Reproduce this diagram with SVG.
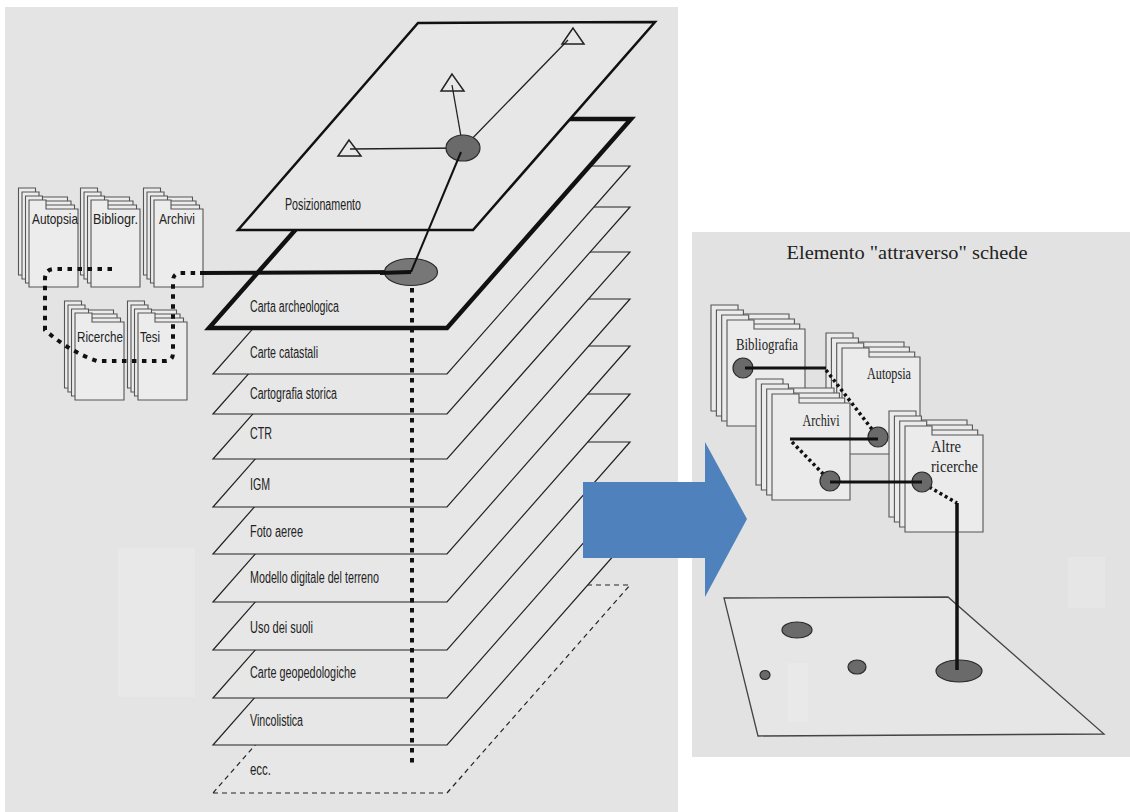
<svg xmlns="http://www.w3.org/2000/svg" width="1130" height="812" viewBox="0 0 1130 812">
<style>
.layer{fill:#e7e7e7;stroke:#222;stroke-width:1.2;stroke-linejoin:miter}
.lbl{font-family:"Liberation Sans","Arial",sans-serif;font-size:16px;fill:#222}
.clbl{font-family:"Liberation Sans","Arial",sans-serif;font-size:15px;fill:#222}
.rlbl{font-family:"Liberation Serif","Times New Roman",serif;font-size:16.5px;fill:#222}
.card{fill:#ececec;stroke:#555;stroke-width:1.1}
.rcard{fill:#ebebeb;stroke:#555;stroke-width:1.1}
.dot{fill:#6a6a6a;stroke:#2a2a2a;stroke-width:1.2}
.solid{fill:none;stroke:#111;stroke-width:3}
.dotted{fill:none;stroke:#111;stroke-width:4;stroke-dasharray:4.5 5.5}
.rdotted{fill:none;stroke:#111;stroke-width:3.5;stroke-dasharray:3 3}
.tri{fill:#e8e8e8;stroke:#222;stroke-width:1.5}
</style>
<defs>
<path id="lc" d="M0,78 L0,-9 L17,-9 L17,0 L49,0 L49,78 Z"/>
<path id="rc" d="M0,97 L0,-9 L27,-9 L27,0 L78,0 L78,97 Z"/>
<g id="lstack">
<use href="#lc" class="card" x="-10.5" y="-12"/>
<use href="#lc" class="card" x="-7" y="-8"/>
<use href="#lc" class="card" x="-3.5" y="-4"/>
<use href="#lc" class="card" x="0" y="0"/>
</g>
<g id="rstack">
<use href="#rc" class="rcard" x="-16" y="-15"/>
<use href="#rc" class="rcard" x="-10.6" y="-10"/>
<use href="#rc" class="rcard" x="-5.3" y="-5"/>
<use href="#rc" class="rcard" x="0" y="0"/>
</g>
</defs>
<rect x="0" y="0" width="1130" height="812" fill="#ffffff"/>
<rect id="left-panel" x="5" y="7" width="673" height="805" fill="#e4e4e4"/>
<rect x="118" y="548" width="77" height="149" fill="#e8e8e8"/>
<rect id="right-panel" x="692" y="232" width="438" height="525" fill="#e2e2e2"/>
<rect x="1068" y="557" width="37" height="51" fill="#e6e6e6"/>

<g id="layers">
<g id="layer-ecc"><polygon points="213,793 447,793 630,585 396,585" class="layer" style="stroke-dasharray:5 4"/><text class="lbl" x="250" y="775" textLength="21" lengthAdjust="spacingAndGlyphs">ecc.</text></g>
<g id="layer-vincolistica"><polygon points="213,745 447,745 630,537 396,537" class="layer"/><text class="lbl" x="250" y="726" textLength="53" lengthAdjust="spacingAndGlyphs">Vincolistica</text></g>
<g id="layer-geopedologiche"><polygon points="213,698 447,698 630,490 396,490" class="layer"/><text class="lbl" x="250" y="678" textLength="106" lengthAdjust="spacingAndGlyphs">Carte geopedologiche</text></g>
<g id="layer-uso"><polygon points="213,650 447,650 630,442 396,442" class="layer"/><text class="lbl" x="250" y="633" textLength="63" lengthAdjust="spacingAndGlyphs">Uso dei suoli</text></g>
<g id="layer-modello"><polygon points="213,602 447,602 630,394 396,394" class="layer"/><text class="lbl" x="250" y="583" textLength="129" lengthAdjust="spacingAndGlyphs">Modello digitale del terreno</text></g>
<g id="layer-foto"><polygon points="213,554 447,554 630,346 396,346" class="layer"/><text class="lbl" x="250" y="537" textLength="53" lengthAdjust="spacingAndGlyphs">Foto aeree</text></g>
<g id="layer-igm"><polygon points="213,507 447,507 630,299 396,299" class="layer"/><text class="lbl" x="250" y="490" textLength="20" lengthAdjust="spacingAndGlyphs">IGM</text></g>
<g id="layer-ctr"><polygon points="213,459 447,459 630,252 396,252" class="layer"/><text class="lbl" x="250" y="439" textLength="22" lengthAdjust="spacingAndGlyphs">CTR</text></g>
<g id="layer-cartografia"><polygon points="213,414 447,414 630,207 396,207" class="layer"/><text class="lbl" x="250" y="399" textLength="87" lengthAdjust="spacingAndGlyphs">Cartografia storica</text></g>
<g id="layer-catastali"><polygon points="213,374 447,374 630,166 396,166" class="layer"/><text class="lbl" x="250" y="358" textLength="68" lengthAdjust="spacingAndGlyphs">Carte catastali</text></g>
<g id="layer-archeologica"><polygon points="209,328 447,328 631,119 393,119" class="layer" style="stroke-width:4.5;stroke:#111"/><text class="lbl" x="250" y="312" textLength="89" lengthAdjust="spacingAndGlyphs">Carta archeologica</text></g>
<g id="layer-posizionamento"><polygon points="238,230 473,230 655,22 418,23" class="layer" style="stroke-width:2.5;stroke:#111"/><text class="lbl" x="285" y="210" textLength="76" lengthAdjust="spacingAndGlyphs">Posizionamento</text></g>
</g>

<g id="left-cards">
<g id="card-autopsia"><use href="#lstack" x="29" y="209"/><text class="clbl" x="55" y="224" text-anchor="middle" textLength="46" lengthAdjust="spacingAndGlyphs">Autopsia</text></g>
<g id="card-bibliogr"><use href="#lstack" x="91" y="209"/><text class="clbl" x="115.5" y="224" text-anchor="middle" textLength="45" lengthAdjust="spacingAndGlyphs">Bibliogr.</text></g>
<g id="card-archivi"><use href="#lstack" x="154" y="209"/><text class="clbl" x="177" y="224" text-anchor="middle" textLength="36" lengthAdjust="spacingAndGlyphs">Archivi</text></g>
<g id="card-ricerche"><use href="#lstack" x="75" y="322"/><text class="clbl" x="100" y="342" text-anchor="middle" textLength="46" lengthAdjust="spacingAndGlyphs">Ricerche</text></g>
<g id="card-tesi"><use href="#lstack" x="138" y="322"/><text class="clbl" x="140" y="342" textLength="20" lengthAdjust="spacingAndGlyphs">Tesi</text></g>
</g>

<g id="triangles">
<polygon class="tri" points="349,140 338,156 361,156"/>
<polygon class="tri" points="452,74 441,91 464,91"/>
<polygon class="tri" points="573,28 562,44 584,44"/>
</g>

<g id="connectors">
<line x1="463" y1="148" x2="350" y2="149" stroke="#222" stroke-width="1.3"/>
<line x1="463" y1="148" x2="452" y2="85" stroke="#222" stroke-width="1.3"/>
<line x1="463" y1="148" x2="568" y2="40" stroke="#222" stroke-width="1.3"/>
<line x1="200" y1="273" x2="411" y2="272" stroke="#111" stroke-width="4"/>
<path class="dotted" d="M112,269 L55,269 Q45,269 45,279 L45,330 Q70,352 97,361 L165,361 Q173,361 173,353 L173,281 Q173,273 181,273 L200,273"/>
<line class="dotted" x1="412" y1="278" x2="412" y2="768"/>
</g>

<g id="dots-left">
<ellipse class="dot" cx="463" cy="148" rx="17" ry="13"/>
<ellipse class="dot" cx="411" cy="272" rx="26.5" ry="13.5" style="fill:#777"/>
<line x1="461" y1="152" x2="411" y2="272" stroke="#111" stroke-width="2"/>
<line x1="380" y1="273" x2="411" y2="272" stroke="#111" stroke-width="4"/>
</g>

<g id="arrow">
<polygon points="583,482 705,482 705,442 747,519 705,597 705,558 583,558" fill="#4f81bd"/>
</g>

<text id="title" class="rlbl" x="907" y="259" text-anchor="middle" style="font-size:18px" textLength="241" lengthAdjust="spacingAndGlyphs">Elemento "attraverso" schede</text>

<g id="plane-right">
<polygon points="724,598 948,597 1104,734 758,736" fill="#e6e6e6" stroke="#444" stroke-width="1.3"/>
<rect x="788" y="663" width="20" height="59" fill="#e9e9e9"/>
<ellipse class="dot" cx="797" cy="630" rx="15" ry="8"/>
<ellipse class="dot" cx="765" cy="675" rx="5" ry="4.5"/>
<ellipse class="dot" cx="857" cy="667" rx="9" ry="7"/>
<ellipse class="dot" cx="959" cy="671" rx="23" ry="11"/>
</g>

<g id="right-cards">
<g id="rcard-bibliografia"><use href="#rstack" x="727" y="329"/><text class="rlbl" x="767" y="350" text-anchor="middle" textLength="62" lengthAdjust="spacingAndGlyphs">Bibliografia</text></g>
<g id="rcard-autopsia"><use href="#rstack" x="842" y="357"/><text class="rlbl" x="889" y="379" text-anchor="middle" textLength="44" lengthAdjust="spacingAndGlyphs">Autopsia</text></g>
<g id="rcard-archivi"><use href="#rstack" x="772" y="403"/><text class="rlbl" x="821" y="426" text-anchor="middle" textLength="37" lengthAdjust="spacingAndGlyphs">Archivi</text></g>
<g id="rcard-altre"><use href="#rstack" x="905" y="435"/><text class="rlbl" x="931" y="452" textLength="30" lengthAdjust="spacingAndGlyphs">Altre</text><text class="rlbl" x="931" y="472" textLength="47" lengthAdjust="spacingAndGlyphs">ricerche</text></g>
</g>

<g id="right-connectors">
<path class="rdotted" d="M826,370 L878,437"/>
<path class="rdotted" d="M792,442 L830,481"/>
<path class="rdotted" d="M924,484 L957,503"/>
<path class="solid" d="M957,503 L957,670" style="stroke-width:3.5"/>
<circle class="dot" cx="743" cy="368" r="10"/>
<circle class="dot" cx="878" cy="437" r="10"/>
<circle class="dot" cx="830" cy="481" r="10"/>
<circle class="dot" cx="922" cy="482" r="10"/>
<path class="solid" d="M745,368 L826,368 M878,439 L790,439 M830,482 L922,482"/>
</g>
</svg>
